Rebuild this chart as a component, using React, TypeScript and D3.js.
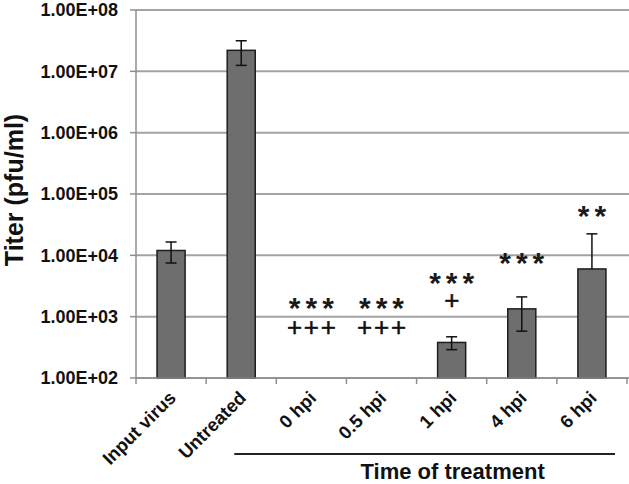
import React from "react";
import * as d3 from "d3";

const categories = ["Input virus", "Untreated", "0 hpi", "0.5 hpi", "1 hpi", "4 hpi", "6 hpi"];
const titers: (number | null)[] = [12000, 22000000, null, null, 380, 1340, 6000];
const errors: (number | null)[] = [4500, 9500000, null, null, 90, 760, 16400];
const yTicks = [1e2, 1e3, 1e4, 1e5, 1e6, 1e7, 1e8];
const yTickLabels = ["1.00E+02", "1.00E+03", "1.00E+04", "1.00E+05", "1.00E+06", "1.00E+07", "1.00E+08"];
const starMarks = ["", "", "***", "***", "***", "***", "**"];
const starLevels: (number | null)[] = [null, null, 1870, 1870, 4790, 10140, 58900];
const plusMarks = ["", "", "+++", "+++", "+", "", ""];
const plusLevels: (number | null)[] = [null, null, 687, 687, 1870, null, null];
const treatmentGroup = ["0 hpi", "6 hpi"];

const W = 629;
const H = 484;
const left = 136;
const right = 627;
const top = 10;
const bottom = 378;
const FONT = "'Liberation Sans', Arial, sans-serif";

export default function App() {
  const x = d3.scaleBand<string>().domain(categories).range([left, right]).paddingInner(0.6).paddingOuter(0.3);
  const y = d3.scaleLog().domain([1e2, 1e8]).range([bottom, top]);
  const step = x.step();
  const bw = x.bandwidth();
  const center = (c: string) => (x(c) as number) + bw / 2;
  const bandStart = (i: number) => left + i * step;

  const groupStart = bandStart(categories.indexOf(treatmentGroup[0])) - 42;
  const groupEnd = bandStart(categories.indexOf(treatmentGroup[1])) + step - 12;

  return (
    <svg width={W} height={H} style={{ position: "absolute", left: 0, top: 0, background: "#fff" }} fontFamily={FONT}>
      <rect x={0} y={0} width={W} height={H} fill="#fff" />
      {/* gridlines */}
      {yTicks.map((t) => (
        <line key={"g" + t} x1={left} x2={right + 2} y1={y(t)} y2={y(t)} stroke="#a3a3a3" strokeWidth={2} />
      ))}
      {/* y axis */}
      <line x1={left} x2={left} y1={top} y2={bottom} stroke="#8f8f8f" strokeWidth={1.5} />
      {yTicks.map((t, i) => (
        <g key={"yt" + t}>
          <line x1={left - 6} x2={left} y1={y(t)} y2={y(t)} stroke="#8f8f8f" strokeWidth={1.5} />
          <text x={118} y={y(t)} dy="0.36em" textAnchor="end" fontSize={18} fontWeight="bold" fill="#111">
            {yTickLabels[i]}
          </text>
        </g>
      ))}
      {/* x axis ticks */}
      {d3.range(categories.length + 1).map((i) => (
        <line key={"xt" + i} x1={bandStart(i)} x2={bandStart(i)} y1={bottom} y2={bottom + 6} stroke="#8f8f8f" strokeWidth={1.5} />
      ))}
      {/* bars */}
      {categories.map((c, i) => {
        const v = titers[i];
        if (v == null) return null;
        return (
          <rect key={"b" + c} x={x(c)} y={y(v)} width={bw} height={bottom - y(v)} fill="#6e6e6e" stroke="#1e1e1e" strokeWidth={1.5} />
        );
      })}
      {/* error bars */}
      {categories.map((c, i) => {
        const v = titers[i];
        const e = errors[i];
        if (v == null || e == null) return null;
        const cx = center(c);
        const hi = y(v + e);
        const loVal = v - e;
        const lo = loVal > 0 ? y(loVal) : y(v);
        return (
          <g key={"e" + c} stroke="#111" strokeWidth={1.5}>
            <line x1={cx} x2={cx} y1={hi} y2={lo} />
            <line x1={cx - 5.5} x2={cx + 5.5} y1={hi} y2={hi} />
            {loVal > 0 && <line x1={cx - 5.5} x2={cx + 5.5} y1={lo} y2={lo} />}
          </g>
        );
      })}
      {/* x axis line */}
      <line x1={left} x2={right + 1} y1={bottom} y2={bottom} stroke="#8f8f8f" strokeWidth={1.5} />
      {/* significance marks */}
      {categories.map((c, i) => {
        const lv = starLevels[i];
        if (!starMarks[i] || lv == null) return null;
        return (
          <text key={"s" + c} x={center(c) + 2.5} y={y(lv) + 18} textAnchor="middle" fontSize={30} fontWeight="bold" letterSpacing={5} fill="#1a1a1a">
            {starMarks[i]}
          </text>
        );
      })}
      {categories.map((c, i) => {
        const lv = plusLevels[i];
        if (!plusMarks[i] || lv == null) return null;
        return (
          <text key={"p" + c} x={center(c) + 1} y={y(lv) + 9} textAnchor="middle" fontSize={26} letterSpacing={1.8} fill="#111" stroke="#111" strokeWidth={0.5}>
            {plusMarks[i]}
          </text>
        );
      })}
      {/* x labels */}
      {categories.map((c) => {
        const px = center(c) + 6;
        const py = 399;
        return (
          <text key={"xl" + c} x={px} y={py} transform={`rotate(-45 ${px} ${py})`} textAnchor="end" fontSize={18.5} fontWeight="bold" fill="#111">
            {c}
          </text>
        );
      })}
      {/* group line and title */}
      <line x1={groupStart} x2={groupEnd} y1={454} y2={454} stroke="#222" strokeWidth={2} />
      <text x={(groupStart + groupEnd) / 2 + 28} y={479} textAnchor="middle" fontSize={22} fontWeight="bold" fill="#111">
        Time of treatment
      </text>
      {/* y title */}
      <text x={0} y={0} transform={`translate(23 190) rotate(-90)`} textAnchor="middle" fontSize={25} fontWeight="bold" fill="#111">
        Titer (pfu/ml)
      </text>
    </svg>
  );
}
